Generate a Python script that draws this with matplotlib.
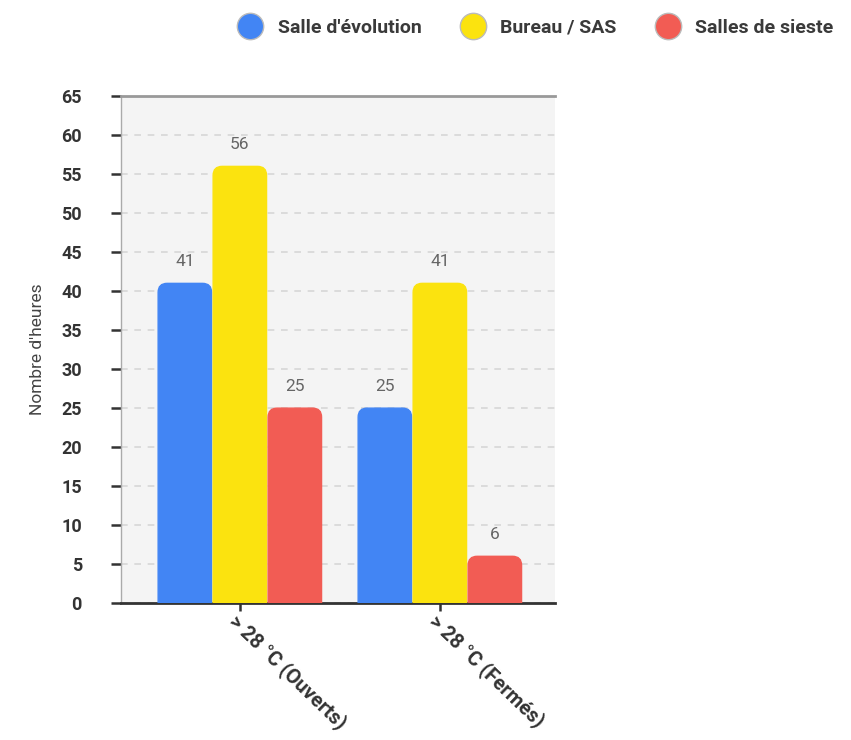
import matplotlib.pyplot as plt
import numpy as np
from matplotlib.patches import FancyBboxPatch
from matplotlib.lines import Line2D

plt.rcParams["font.family"] = ["Roboto", "DejaVu Sans"]

categories = ["> 28 °C (Ouverts)", "> 28 °C (Fermés)"]
series_names = ["Salle d'évolution", "Bureau / SAS", "Salles de sieste"]
salle_evolution = [41, 25]
bureau_sas = [56, 41]
salles_sieste = [25, 6]
colors = ["#4285f4", "#fbe30f", "#f25c54"]


def main():
    fig = plt.figure(figsize=(8.51, 7.40), dpi=100)
    ax = fig.add_axes([0.142, 0.185, 0.51, 0.685])
    ax.set_facecolor("#f4f4f4")

    x = np.arange(len(categories))
    width = 0.275
    series = [salle_evolution, bureau_sas, salles_sieste]
    ax.set_xlim(-0.595, 1.575)
    ax.set_ylim(0, 65)

    # px per data unit, used to keep the corner rounding circular
    aspect = (0.51 * 851 / 2.17) / (0.685 * 740 / 65)
    for i, (vals, col) in enumerate(zip(series, colors)):
        bars = ax.bar(x + (i - 1) * width, vals, width, color=col)
        for b in bars:
            b.set_visible(False)
            x0 = b.get_x()
            rb = FancyBboxPatch((x0 + 0.004, -3), b.get_width() - 0.008, b.get_height() + 3,
                                boxstyle="round,pad=0,rounding_size=0.045",
                                mutation_aspect=aspect, facecolor=col,
                                edgecolor=col, linewidth=1.0, zorder=3)
            ax.add_patch(rb)
            ax.annotate(f"{int(b.get_height())}", (x0 + b.get_width() / 2, b.get_height()),
                        xytext=(0, 10), textcoords="offset points", ha="center", va="bottom",
                        fontsize=12.5, color="#666666", zorder=4)

    ax.set_yticks(np.arange(0, 66, 5))
    ax.yaxis.grid(True, linestyle=(0, (4, 4)), color="#d6d6d6", linewidth=1.2)
    ax.set_axisbelow(True)
    for lab in ax.get_yticklabels():
        lab.set_fontweight("bold")
    ax.tick_params(axis="y", direction="out", length=7, width=1.8, color="#333333",
                   labelsize=13, labelcolor="#333333", pad=21)

    ax.set_xticks(x)
    ax.set_xticklabels(categories, rotation=-44, ha="left", va="top",
                       rotation_mode="anchor", fontsize=14.5, fontweight="bold", color="#333333")
    ax.tick_params(axis="x", direction="out", length=6, width=1.8, color="#333333", pad=0)
    for lab in ax.get_xticklabels():
        lab.set_x(lab.get_position()[0] - 0.05)

    ax.spines["right"].set_visible(False)
    ax.spines["top"].set_color("#999999")
    ax.spines["top"].set_linewidth(2)
    ax.spines["left"].set_color("#aaaaaa")
    ax.spines["left"].set_linewidth(1)
    ax.spines["bottom"].set_color("#333333")
    ax.spines["bottom"].set_linewidth(2)

    ax.set_ylabel("Nombre d'heures", fontsize=12.5, color="#444444", labelpad=12)

    handles = [Line2D([], [], marker="o", linestyle="", markersize=19,
                      markerfacecolor=c, markeredgecolor="#bbbbbb", markeredgewidth=1)
               for c in colors]
    leg = fig.legend(handles, series_names, loc="upper right", bbox_to_anchor=(1.0, 0.998),
                     ncol=3, frameon=False, handletextpad=0.4, columnspacing=1.65,
                     prop={"size": 14, "weight": "bold"})
    for t in leg.get_texts():
        t.set_color("#3a3a3a")

    fig.savefig("out.png", dpi=100)
    plt.close(fig)


if __name__ == "__main__":
    main()
